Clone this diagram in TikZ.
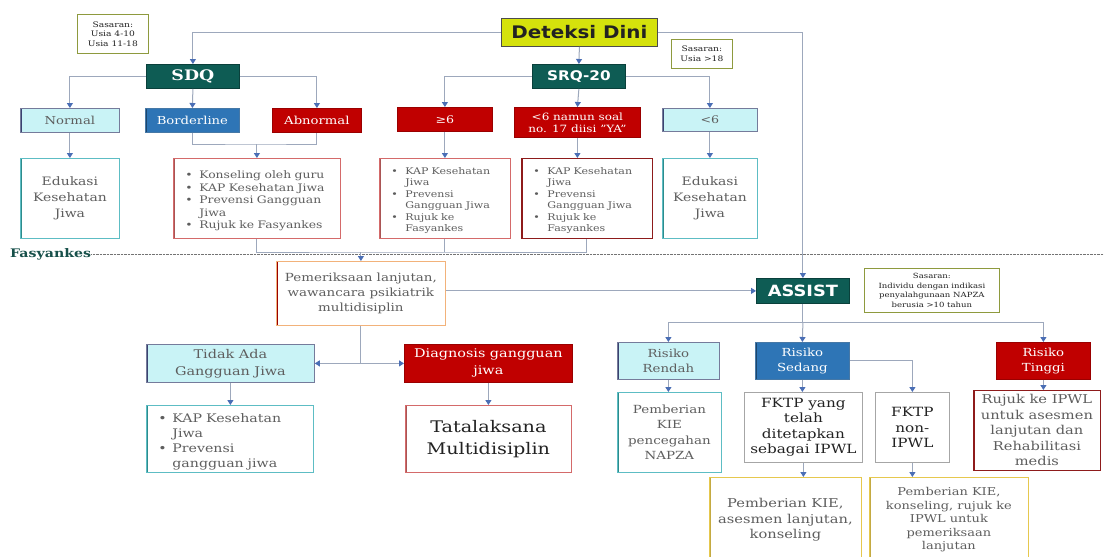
\documentclass[tikz,border=0pt]{standalone}
\usepackage{fontspec}
\setmainfont[FakeStretch=1.2]{DejaVu Serif}
\newfontfamily\headsans[FakeStretch=1.15]{DejaVu Sans}
\usetikzlibrary{arrows.meta}

\definecolor{tealdark}{HTML}{0E5C54}
\definecolor{yellowhead}{HTML}{D5E20C}
\definecolor{cyanfill}{HTML}{C9F3F6}
\definecolor{navyedge}{HTML}{3A4270}
\definecolor{bluefill}{HTML}{2E75B6}
\definecolor{redfill}{HTML}{C00000}
\definecolor{pinkedge}{HTML}{D46A6A}
\definecolor{darkred}{HTML}{8E1B1B}
\definecolor{tealedge}{HTML}{5DBDC4}
\definecolor{tealleft}{HTML}{2E8C8C}
\definecolor{orangeedge}{HTML}{F2B27A}
\definecolor{goldedge}{HTML}{E6C84E}
\definecolor{oliveedge}{HTML}{8E9A3E}
\definecolor{greyedge}{HTML}{A6A6A6}
\definecolor{linec}{HTML}{9DA8BC}
\definecolor{arrowc}{HTML}{4A6EB5}
\definecolor{txtgrey}{HTML}{5E5E5E}
\definecolor{txtdark}{HTML}{222222}
\definecolor{fastxt}{HTML}{17504A}

% bullet line with hanging indent for the list boxes
\newcommand\bul[1]{\par\noindent\hangindent=14pt\hangafter=1\hbox to 14pt{\textbullet\hfil}#1\par}

\begin{document}
\begin{tikzpicture}[x=1pt,y=-1pt,
  box/.style={draw, rectangle, inner sep=0pt, anchor=north west, align=center, line width=0.8pt},
  leftedge/.style={path picture={\draw[line width=4pt,#1]
      (path picture bounding box.north west) -- (path picture bounding box.south west);}},
  headbox/.style={box, fill=tealdark, draw=tealdark!70!black, text=white},
  cyanbox/.style={box, fill=cyanfill, draw=navyedge!70, leftedge=navyedge, text=txtgrey},
  redbox/.style={box, fill=redfill, draw=redfill!80!black, text=white},
  bluebox/.style={box, fill=bluefill, draw=bluefill!70!gray, leftedge=bluefill!60!black, text=white},
  edubox/.style={box, fill=white, draw=tealedge, leftedge=tealleft, text=txtgrey},
  listbox/.style={box, fill=white, draw=pinkedge, leftedge=pinkedge!80!black, text=txtgrey, align=left, inner xsep=12pt},
  sasbox/.style={box, fill=white, draw=oliveedge, text=txtdark},
  goldbox/.style={box, fill=white, draw=goldedge, leftedge=goldedge!85!black, text=txtgrey},
  plainbox/.style={box, fill=white, draw=greyedge, text=txtdark},
  line/.style={draw=linec, line width=1pt},
  conn/.style={line, -{Triangle[length=5pt,width=6pt,color=arrowc]}}
]
\useasboundingbox (0,0) rectangle (1104,557);
\clip (0,0) rectangle (1104,557);
\fill[white] (0,0) rectangle (1104,557);

% ---------- top: early detection ----------
\node[sasbox, minimum width=71pt, minimum height=39pt, font=\fontsize{7.6}{9.5}\selectfont]
  (sas1) at (77,14) {Sasaran:\\Usia 4-10\\Usia 11-18};
\node[box, fill=yellowhead, draw=black!70, minimum width=156pt, minimum height=28pt,
  font=\headsans\bfseries\fontsize{17.3}{19}\selectfont, text=txtdark] (dd) at (501,18) {Deteksi Dini};
\node[sasbox, minimum width=61pt, minimum height=29pt, font=\fontsize{7.6}{9.5}\selectfont]
  (sas2) at (671,39) {Sasaran:\\Usia >18};

\node[headbox, minimum width=93pt, minimum height=24pt, font=\bfseries\fontsize{14.5}{16}\selectfont]
  (sdq) at (146,64) {SDQ};
\node[headbox, minimum width=93pt, minimum height=24pt, font=\headsans\bfseries\fontsize{13.3}{15}\selectfont]
  (srq) at (532,64) {SRQ-20};

% ---------- SDQ branch ----------
\node[cyanbox, minimum width=99pt, minimum height=24pt, font=\fontsize{11}{12}\selectfont]
  (normal) at (20,108) {Normal};
\node[bluebox, minimum width=94pt, minimum height=24pt, font=\fontsize{11}{12}\selectfont]
  (bord) at (145,108) {Borderline};
\node[redbox, minimum width=89pt, minimum height=24pt, font=\fontsize{11}{12}\selectfont]
  (abn) at (272,108) {Abnormal};

\node[edubox, minimum width=99pt, minimum height=80pt, font=\fontsize{11.6}{16}\selectfont]
  (edu1) at (20,158) {Edukasi\\Kesehatan\\Jiwa};
\node[listbox, minimum width=167pt, minimum height=80pt, text width=143pt, font=\fontsize{10.3}{12.5}\selectfont]
  (list1) at (173,158) {\bul{Konseling oleh guru}\bul{KAP Kesehatan Jiwa}\bul{Prevensi Gangguan\newline Jiwa}\bul{Rujuk ke Fasyankes}};

% ---------- SRQ-20 branch ----------
\node[redbox, minimum width=95pt, minimum height=24pt, font=\fontsize{10.5}{12}\selectfont]
  (ge6) at (397,107) {≥6};
\node[redbox, minimum width=126pt, minimum height=30pt, font=\fontsize{10}{12}\selectfont]
  (soal) at (514,107) {<6 namun soal\\no. 17 diisi "YA"};
\node[cyanbox, minimum width=95pt, minimum height=23pt, font=\fontsize{10.5}{12}\selectfont]
  (lt6) at (662,108) {<6};

\node[listbox, minimum width=131pt, minimum height=80pt, text width=107pt, font=\fontsize{9.2}{11.4}\selectfont]
  (list2) at (379,158) {\bul{KAP Kesehatan\newline Jiwa}\bul{Prevensi\newline Gangguan Jiwa}\bul{Rujuk ke\newline Fasyankes}};
\node[listbox, draw=darkred, leftedge=darkred, minimum width=131pt, minimum height=80pt, text width=107pt, font=\fontsize{9.2}{11.4}\selectfont]
  (list3) at (521,158) {\bul{KAP Kesehatan\newline Jiwa}\bul{Prevensi\newline Gangguan Jiwa}\bul{Rujuk ke\newline Fasyankes}};
\node[edubox, minimum width=95pt, minimum height=80pt, font=\fontsize{11.6}{16}\selectfont]
  (edu2) at (662,158) {Edukasi\\Kesehatan\\Jiwa};

% ---------- health facility level ----------
\node[anchor=west, inner sep=0pt, font=\bfseries\fontsize{11.8}{13}\selectfont, text=fastxt]
  (fas) at (10,254) {Fasyankes};
\draw[draw=black!55, line width=0.6pt, dash pattern=on 0.7pt off 0.7pt] (fas.east) -- (1104,254);

\node[box, fill=white, draw=orangeedge, leftedge=redfill!80!black, minimum width=169pt, minimum height=64pt,
  font=\fontsize{11.2}{15}\selectfont, text=txtgrey]
  (pem) at (276,261) {Pemeriksaan lanjutan,\\wawancara psikiatrik\\multidisiplin};
\node[headbox, minimum width=93pt, minimum height=25pt, font=\headsans\bfseries\fontsize{15.5}{17}\selectfont]
  (assist) at (756,278) {ASSIST};
\node[sasbox, minimum width=135pt, minimum height=44pt, font=\fontsize{7.1}{9.5}\selectfont]
  (sas3) at (864,268) {Sasaran:\\Individu dengan indikasi\\penyalahgunaan NAPZA\\berusia >10 tahun};

\node[cyanbox, minimum width=168pt, minimum height=38pt, font=\fontsize{12}{17}\selectfont]
  (tidak) at (146,344) {Tidak Ada\\Gangguan Jiwa};
\node[redbox, minimum width=168pt, minimum height=38pt, font=\fontsize{12}{17}\selectfont]
  (diag) at (404,344) {Diagnosis gangguan\\jiwa};
\node[listbox, draw=tealedge, leftedge=tealleft, minimum width=167pt, minimum height=67pt, text width=143pt,
  font=\fontsize{11.8}{15}\selectfont]
  (list4) at (146,405) {\bul{KAP Kesehatan\newline Jiwa}\bul{Prevensi\newline gangguan jiwa}};
\node[box, fill=white, draw=pinkedge, leftedge=pinkedge!80!black, minimum width=166pt, minimum height=67pt,
  font=\fontsize{16}{22}\selectfont, text=txtdark]
  (tata) at (405,405) {Tatalaksana\\Multidisiplin};

% ---------- ASSIST risk levels ----------
\node[cyanbox, minimum width=102pt, minimum height=37pt, font=\fontsize{11.1}{15}\selectfont]
  (rendah) at (617,342) {Risiko\\Rendah};
\node[bluebox, minimum width=94pt, minimum height=37pt, font=\fontsize{11.1}{15}\selectfont]
  (sedang) at (755,342) {Risiko\\Sedang};
\node[redbox, minimum width=94pt, minimum height=37pt, font=\fontsize{11.1}{15}\selectfont]
  (tinggi) at (996,342) {Risiko\\Tinggi};

\node[edubox, minimum width=104pt, minimum height=80pt, font=\fontsize{11.2}{15.5}\selectfont]
  (kie1) at (617,392) {Pemberian\\KIE\\pencegahan\\NAPZA};
\node[plainbox, minimum width=118pt, minimum height=70pt, font=\fontsize{12.7}{15.5}\selectfont]
  (fktp1) at (744,392) {FKTP yang\\telah\\ditetapkan\\sebagai IPWL};
\node[plainbox, minimum width=74pt, minimum height=70pt, font=\fontsize{12.7}{15.5}\selectfont]
  (fktp2) at (875,392) {FKTP\\non-\\IPWL};
\node[box, fill=white, draw=darkred, leftedge=darkred, minimum width=127pt, minimum height=80pt,
  font=\fontsize{12.2}{15.5}\selectfont, text=txtgrey]
  (rujuk) at (973,390) {Rujuk ke IPWL\\untuk asesmen\\lanjutan dan\\Rehabilitasi\\medis};

\node[goldbox, minimum width=152pt, minimum height=85pt, font=\fontsize{12.2}{15.5}\selectfont]
  (kie2) at (709,477) {Pemberian KIE,\\asesmen lanjutan,\\konseling};
\node[goldbox, minimum width=159pt, minimum height=85pt, font=\fontsize{10.8}{13.5}\selectfont]
  (kie3) at (869,477) {Pemberian KIE,\\konseling, rujuk ke\\IPWL untuk\\pemeriksaan\\lanjutan};

% ---------- connectors ----------
\draw[conn] (dd.west) -| (sdq.north);
\draw[conn] (dd.east) -| (assist.north);
\draw[conn] (dd.south) -- (srq.north);

\draw[conn] (sdq.west) -| (normal.north);
\draw[conn] (sdq.south) -- (bord.north);
\draw[conn] (sdq.east) -| (abn.north);
\draw[conn] (normal.south) -- (edu1.north);
\coordinate (j1) at (list1.north |- 0,144);
\draw[line] (bord.south) |- (j1) -| (abn.south);
\draw[conn] (j1) -- (list1.north);

\draw[conn] (srq.west) -| (ge6.north);
\draw[conn] (srq.south) -- (soal.north);
\draw[conn] (srq.east) -| (lt6.north);
\draw[conn] (ge6.south) -- (ge6.south |- list2.north);
\draw[conn] (soal.south) -- (soal.south |- list3.north);
\draw[conn] (lt6.south) -- (edu2.north);

\coordinate (j2) at (pem.north |- 0,252);
\draw[line] (list1.south) |- (j2) -| (list3.south);
\draw[line] (list2.south) -- (list2.south |- j2);
\draw[conn] (j2) -- (pem.north);

\draw[conn] (pem.east |- assist.west) -- (assist.west);
\coordinate (j3) at (pem.south |- tidak.east);
\draw[line] (pem.south) -- (j3);
\draw[conn] (j3) -- (tidak.east);
\draw[conn] (j3) -- (diag.west);
\draw[conn] (tidak.south) -- (tidak.south |- list4.north);
\draw[conn] (diag.south) -- (diag.south |- tata.north);

\coordinate (j4) at (assist.south |- 0,322);
\draw[line] (assist.south) -- (j4);
\draw[conn] (j4) -| (rendah.north);
\draw[conn] (j4) -| (tinggi.north);
\draw[conn] (j4) -- (sedang.north);
\draw[conn] (rendah.south) -- (rendah.south |- kie1.north);
\draw[conn] (sedang.south) -- (sedang.south |- fktp1.north);
\draw[conn] (sedang.east) -| (fktp2.north);
\draw[conn] (tinggi.south) -- (tinggi.south |- rujuk.north);
\draw[conn] (fktp1.south) -- (fktp1.south |- kie2.north);
\draw[conn] (fktp2.south) -- (fktp2.south |- kie3.north);
\end{tikzpicture}
\end{document}
